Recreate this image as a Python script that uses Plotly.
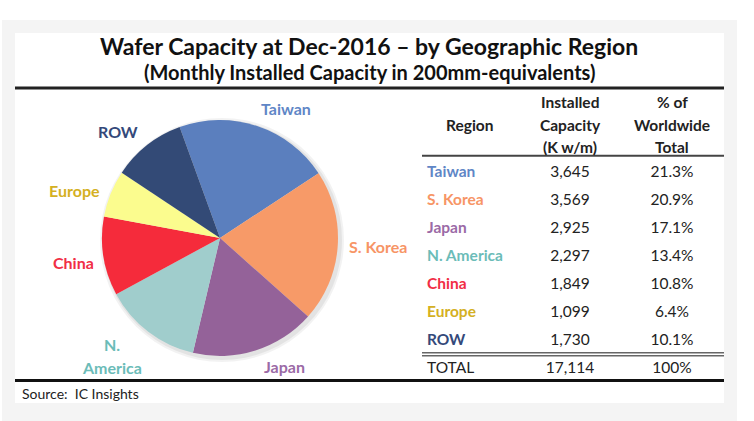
import plotly.graph_objects as go

# Data
regions = ["Taiwan", "S. Korea", "Japan", "N. America", "China", "Europe", "ROW"]
capacity = [3645, 3569, 2925, 2297, 1849, 1099, 1730]
share = ["21.3%", "20.9%", "17.1%", "13.4%", "10.8%", "6.4%", "10.1%"]
total_share = "100%"
pie_labels = ["Taiwan", "S. Korea", "Japan", "N.<br>America", "China", "Europe", "ROW"]

slice_colors = ["#5b7fbe", "#f79a68", "#946299", "#a0cdcc", "#f52b3b", "#fbfc8e", "#334a76"]
text_colors = ["#5f86c6", "#f79566", "#9b6aa6", "#6bbcb8", "#f12e45", "#d4b023", "#34497a"]

W, H = 754, 421
FONT = "Lato"


def px(x):
    return x / W


def py(y):
    return 1 - y / H


fig = go.Figure()

# pie (clockwise from ~11 o'clock)
fig.add_trace(go.Pie(
    values=capacity, labels=regions, sort=False, direction="clockwise",
    rotation=-20, textinfo="none", hoverinfo="label+value+percent",
    marker=dict(colors=slice_colors, line=dict(width=0)),
    domain=dict(x=[px(102), px(338)], y=[py(356), py(120)]),
    showlegend=False,
))

# table body on a hidden axis: one row per region, total row last
n = len(regions)
rows = list(range(n + 1))
col_region, col_cap, col_pct = 427, 570, 672
fig.add_trace(go.Scatter(
    x=[col_region] * (n + 1), y=rows, mode="text",
    text=[f"<b>{r}</b>" for r in regions] + ["TOTAL"],
    textposition="middle right",
    textfont=dict(family=FONT, size=15.5, color=text_colors + ["#222222"]),
    hoverinfo="skip", showlegend=False,
))
fig.add_trace(go.Scatter(
    x=[col_cap] * (n + 1), y=rows, mode="text",
    text=[f"{v:,}" for v in capacity] + [f"{sum(capacity):,}"],
    textposition="middle center",
    textfont=dict(family=FONT, size=15.5, color="#222222"),
    hoverinfo="skip", showlegend=False,
))
fig.add_trace(go.Scatter(
    x=[col_pct] * (n + 1), y=rows, mode="text",
    text=share + [total_share],
    textposition="middle center",
    textfont=dict(family=FONT, size=15.5, color="#222222"),
    hoverinfo="skip", showlegend=False,
))

row0, step = 172.8, 28.1
top = -row0 / step
bottom = top + H / step

shapes = [
    # grey panel and white card
    dict(type="rect", x0=px(2), x1=px(737), y0=py(421), y1=py(20),
         fillcolor="#f4f4f4", line=dict(width=0), layer="below"),
    dict(type="rect", x0=px(15), x1=px(724), y0=py(403), y1=py(33),
         fillcolor="#ffffff", line=dict(width=0), layer="below"),
    # soft shadow behind the pie
    dict(type="circle", x0=px(100), x1=px(344), y0=py(362), y1=py(118),
         fillcolor="rgba(0,0,0,0.05)", line=dict(width=0), layer="below"),
    dict(type="circle", x0=px(102), x1=px(342), y0=py(360), y1=py(120),
         fillcolor="rgba(0,0,0,0.06)", line=dict(width=0), layer="below"),
    # rules
    dict(type="line", x0=px(15), x1=px(724), y0=py(88), y1=py(88),
         line=dict(color="#222222", width=3)),
    dict(type="line", x0=px(15), x1=px(724), y0=py(380.5), y1=py(380.5),
         line=dict(color="#111111", width=3)),
    dict(type="line", x0=px(422), x1=px(724), y0=py(155.7), y1=py(155.7),
         line=dict(color="#444444", width=2)),
    dict(type="line", x0=px(422), x1=px(724), y0=py(352.8), y1=py(352.8),
         line=dict(color="#666666", width=1.5)),
    dict(type="line", x0=px(422), x1=px(724), y0=py(355.8), y1=py(355.8),
         line=dict(color="#666666", width=1.5)),
]

annotations = [
    dict(text="<b>Wafer Capacity at Dec-2016 – by Geographic Region</b>",
         x=px(368.5), y=py(46), font=dict(family=FONT, size=23, color="#111111")),
    dict(text="<b>(Monthly Installed Capacity in 200mm-equivalents)</b>",
         x=px(369.5), y=py(72), font=dict(family=FONT, size=20, color="#111111")),
    dict(text="Source:  IC Insights", x=px(20), y=py(393), xanchor="left",
         font=dict(family=FONT, size=14, color="#222222")),
]

# table header
headers = [
    (470, ["", "Region", ""]),
    (570, ["Installed", "Capacity", "(K w/m)"]),
    (672, ["% of", "Worldwide", "Total"]),
]
for hx, lines in headers:
    for hy, line in zip([101.7, 125, 147.5], lines):
        if line:
            annotations.append(dict(text=f"<b>{line}</b>", x=px(hx), y=py(hy),
                                    font=dict(family=FONT, size=15.5, color="#222222")))

# pie labels
label_pos = [(286, 109), (378, 247), (284, 366), (112, 344), (73, 262), (74, 191), (118, 132)]
for lab, (lx, ly), col in zip(pie_labels, label_pos, text_colors):
    for k, part in enumerate(lab.split("<br>")):
        annotations.append(dict(text=f"<b>{part}</b>", x=px(lx), y=py(ly + 23 * k),
                                font=dict(family=FONT, size=16, color=col)))

for a in annotations:
    a.update(xref="paper", yref="paper", showarrow=False, yanchor="middle")
    a.setdefault("xanchor", "center")
for s in shapes:
    s.update(xref="paper", yref="paper")

fig.update_layout(
    width=W, height=H, margin=dict(l=0, r=0, t=0, b=0),
    paper_bgcolor="#ffffff", plot_bgcolor="rgba(0,0,0,0)",
    xaxis=dict(range=[0, W], domain=[0, 1], visible=False, fixedrange=True),
    yaxis=dict(range=[bottom, top], domain=[0, 1], visible=False, fixedrange=True),
    shapes=shapes, annotations=annotations,
)

# page body margin would push the figure 8px in; remove it
fig.write_html("out.html", config={"displayModeBar": False},
               post_script="document.body.style.margin='0';")
